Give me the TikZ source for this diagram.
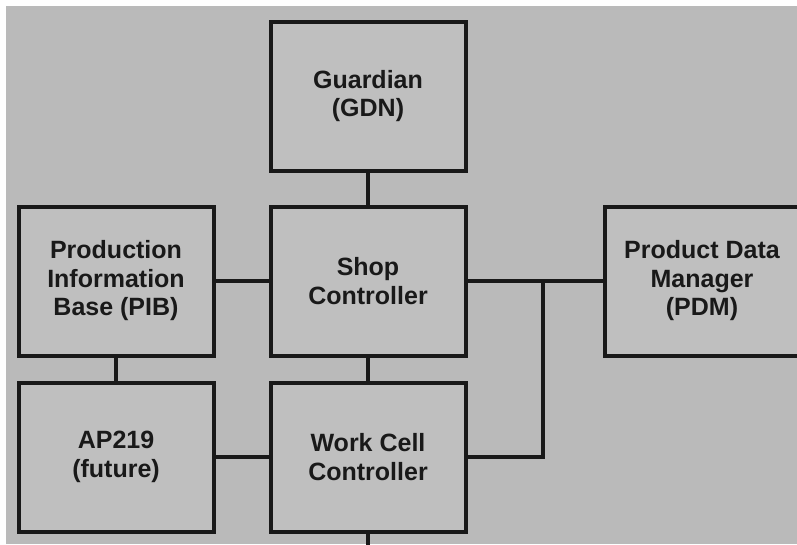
\documentclass[tikz,border=0pt]{standalone}
\usepackage{fontspec}
\setmainfont{Liberation Sans}
\usepackage{tikz}

\begin{document}
\begin{tikzpicture}[x=1pt,y=-1pt,
  unit/.style={draw=black!90,line width=4pt,fill=black!25,
    minimum width=195pt,minimum height=149pt,align=center,
    text=black!90,font=\bfseries\fontsize{25}{28.5}\selectfont},
  link/.style={draw=black!90,line width=4.5pt}]
\useasboundingbox (0,0) rectangle (797,544);
\fill[white] (0,0) rectangle (797,544);
\fill[black!27] (6,6) rectangle (797,544);
% boxes
\node[unit] (gdn) at (368,96) {Guardian\\(GDN)};
\node[unit] (shop) at (368,281) {Shop\\Controller};
\node[unit] (pib) at (116,281) {Production\\Information\\Base (PIB)};
\node[unit] (pdm) at (702,281) {Product Data\\Manager\\(PDM)};
\node[unit] (ap) at (116,457) {AP219\\(future)};
\node[unit] (wcc) at (368,457) {Work Cell\\Controller};
\coordinate (jn) at (543,281);
\coordinate (bot) at (368,560);
% links
\draw[link] (gdn) -- (shop);
\draw[link] (pib) -- (shop);
\draw[link] (shop) -- (pdm);
\draw[link] (pib) -- (ap);
\draw[link] (shop) -- (wcc);
\draw[link] (ap) -- (wcc);
\draw[link] (wcc) -| (jn);
\draw[link] (wcc) -- (bot);
\end{tikzpicture}
\end{document}
